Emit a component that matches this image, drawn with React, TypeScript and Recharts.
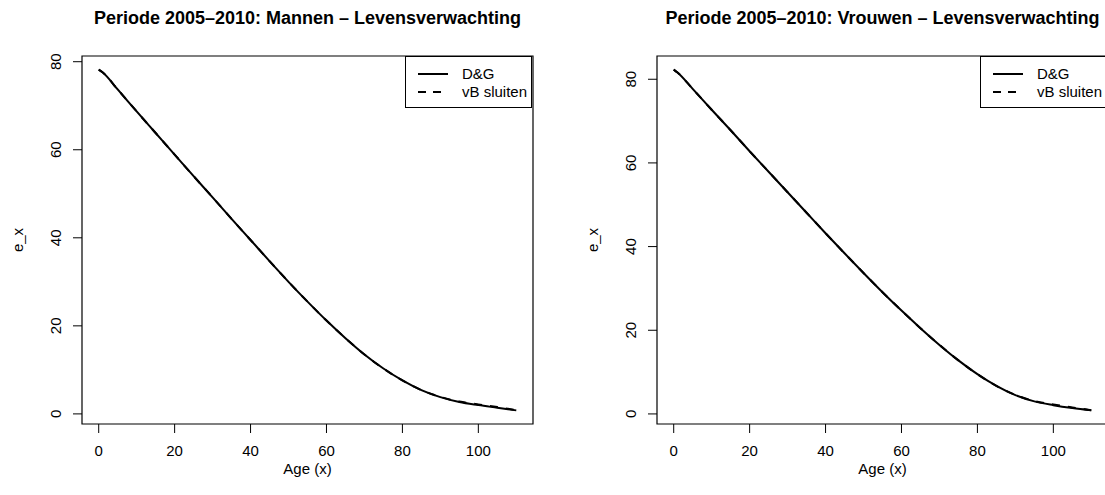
import React from "react";
import { LineChart, Line, XAxis, YAxis, ReferenceArea, Label } from "recharts";

// ages (age x)
const ages = [0, 1, 5, 10, 15, 20, 25, 30, 35, 40, 45, 50, 55, 60, 65, 70, 75, 80, 85, 90, 95, 100, 105, 110];

// Mannen: e_x
const menDG = [78.2, 77.6, 73.7, 68.7, 63.8, 58.9, 54.0, 49.2, 44.3, 39.5, 34.7, 30.0, 25.5, 21.2, 17.2, 13.5, 10.3, 7.6, 5.4, 3.8, 2.7, 2.0, 1.4, 0.8];
const menVB = [78.2, 77.6, 73.7, 68.7, 63.8, 58.9, 54.0, 49.2, 44.3, 39.5, 34.7, 30.0, 25.5, 21.2, 17.2, 13.5, 10.3, 7.6, 5.4, 3.85, 2.8, 2.15, 1.55, 0.85];

// Vrouwen: e_x
const womenDG = [82.3, 81.6, 77.7, 72.7, 67.8, 62.8, 57.9, 53.0, 48.1, 43.2, 38.4, 33.7, 29.1, 24.7, 20.5, 16.5, 12.8, 9.5, 6.7, 4.5, 3.0, 2.1, 1.4, 0.85];
const womenVB = [82.3, 81.6, 77.7, 72.7, 67.8, 62.8, 57.9, 53.0, 48.1, 43.2, 38.4, 33.7, 29.1, 24.7, 20.5, 16.5, 12.8, 9.5, 6.7, 4.55, 3.1, 2.25, 1.55, 0.9];

const xTicks = [0, 20, 40, 60, 80, 100];
const yTicks = [0, 20, 40, 60, 80];

const FONT = '"Liberation Sans", Arial, Helvetica, sans-serif';
const W = 575;
const H = 495;

// R style axis range: data range stretched by 4% on each side
function padRange(vals: number[]): [number, number] {
  const lo = Math.min(...vals);
  const hi = Math.max(...vals);
  const r = hi - lo;
  return [lo - 0.04 * r, hi + 0.04 * r];
}

function YTick(props: any) {
  const { x, y, payload } = props;
  const bx = x - 10;
  return (
    <text x={bx} y={y} transform={`rotate(-90 ${bx} ${y})`} textAnchor="middle" fontSize={15} fontFamily={FONT} fill="#000">
      {payload.value}
    </text>
  );
}

function Panel({ title, dg, vb, left }: { title: string; dg: number[]; vb: number[]; left: number }) {
  const data = ages.map((a, i) => ({ age: a, dg: dg[i], vb: vb[i] }));
  const xDom = padRange(ages);
  const yDom = padRange([...dg, ...vb]);
  return (
    <div style={{ position: "absolute", left, top: 0, width: W, height: H }}>
      <div style={{ position: "absolute", left: 82, width: 451, top: 8, textAlign: "center", fontFamily: FONT, fontWeight: "bold", fontSize: 18, lineHeight: "20px", whiteSpace: "nowrap" }}>
        {title}
      </div>
      <LineChart width={W} height={H} data={data} margin={{ top: 56, right: 42, left: 0, bottom: 0 }}>
        <XAxis
          dataKey="age"
          type="number"
          domain={xDom}
          ticks={xTicks}
          axisLine={false}
          tickLine={{ stroke: "#000" }}
          tickSize={9}
          tickMargin={12}
          height={71}
          tick={{ fontSize: 15, fontFamily: FONT, fill: "#000" }}
          allowDataOverflow
        >
          <Label
            content={({ viewBox }: any) => (
              <text x={viewBox.x + viewBox.width / 2} y={viewBox.y + 50} textAnchor="middle" fontSize={15} fontFamily={FONT} fill="#000">
                Age (x)
              </text>
            )}
          />
        </XAxis>
        <YAxis
          type="number"
          domain={yDom}
          ticks={yTicks}
          axisLine={false}
          tickLine={{ stroke: "#000" }}
          tickSize={9}
          tickMargin={2}
          width={82}
          tick={<YTick />}
          allowDataOverflow
        >
          <Label
            content={({ viewBox }: any) => {
              const cx = 23;
              const cy = viewBox.y + viewBox.height / 2;
              return (
                <text x={cx} y={cy} transform={`rotate(-90 ${cx} ${cy})`} textAnchor="middle" fontSize={15} fontFamily={FONT} fill="#000">
                  e_x
                </text>
              );
            }}
          />
        </YAxis>
        <ReferenceArea x1={xDom[0]} x2={xDom[1]} y1={yDom[0]} y2={yDom[1]} fill="none" stroke="#000" strokeWidth={1.2} fillOpacity={0} />
        <Line type="monotone" dataKey="dg" stroke="#000" strokeWidth={2} dot={false} isAnimationActive={false} />
        <Line type="monotone" dataKey="vb" stroke="#000" strokeWidth={2} strokeDasharray="8 8" dot={false} isAnimationActive={false} />
      </LineChart>
      <div style={{ position: "absolute", left: 405, top: 56, width: 127, height: 52, border: "1.2px solid #000", boxSizing: "border-box", background: "#fff", fontFamily: FONT, fontSize: 15 }}>
        <svg width={50} height={50} style={{ position: "absolute", left: 0, top: 0 }}>
          <line x1={12} x2={42} y1={17} y2={17} stroke="#000" strokeWidth={2} />
          <line x1={12} x2={42} y1={35} y2={35} stroke="#000" strokeWidth={2} strokeDasharray="8 7" />
        </svg>
        <div style={{ position: "absolute", left: 56, top: 8, lineHeight: "18px", whiteSpace: "nowrap" }}>D&amp;G</div>
        <div style={{ position: "absolute", left: 56, top: 26, lineHeight: "18px", whiteSpace: "nowrap" }}>vB sluiten</div>
      </div>
    </div>
  );
}

export default function App() {
  return (
    <div style={{ position: "absolute", left: 0, top: 0, width: 1105, height: 495, overflow: "hidden", background: "#fff" }}>
      <Panel title="Periode 2005–2010: Mannen – Levensverwachting" dg={menDG} vb={menVB} left={0} />
      <Panel title="Periode 2005–2010: Vrouwen – Levensverwachting" dg={womenDG} vb={womenVB} left={575} />
    </div>
  );
}
